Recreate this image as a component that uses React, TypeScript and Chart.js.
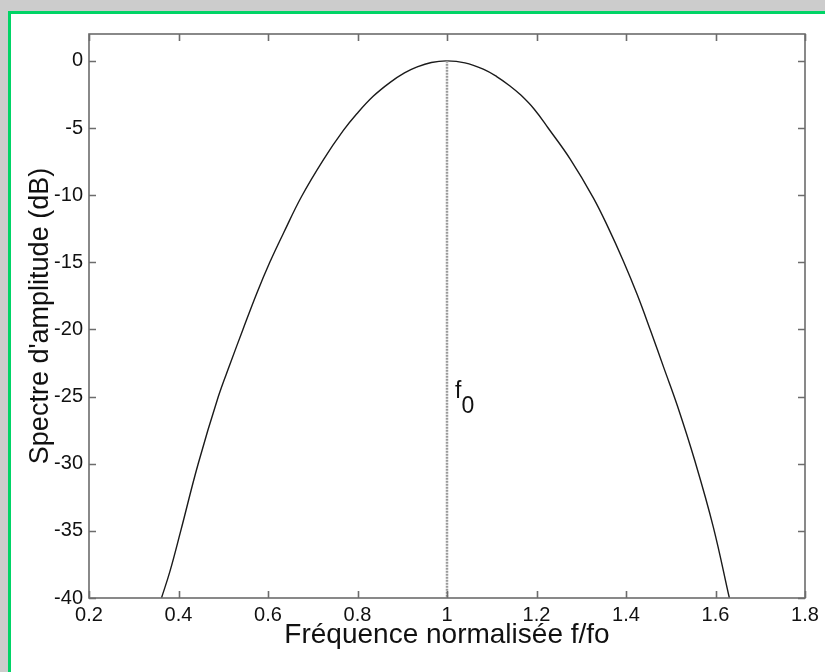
import React, { useEffect, useRef } from "react";
import { Chart, registerables } from "chart.js";

Chart.register(...registerables);

// Normalised frequency f/fo and amplitude spectrum (dB)
const freq = [
  0.362, 0.381, 0.405, 0.444, 0.489, 0.515, 0.544, 0.575, 0.604, 0.635, 0.675,
  0.724, 0.768, 0.798, 0.835, 0.873, 0.905, 0.932, 0.965, 1.0, 1.04, 1.081,
  1.111, 1.14, 1.165, 1.195, 1.226, 1.275, 1.327, 1.36, 1.394, 1.425, 1.455,
  1.485, 1.515, 1.554, 1.595, 1.631,
];
const amplitudeDb = [
  -40, -38, -35, -30, -25, -22.6, -20, -17.3, -15, -12.8, -10.1, -7.35, -5.2,
  -3.96, -2.64, -1.6, -0.9, -0.47, -0.12, 0, -0.15, -0.62, -1.17, -1.85, -2.55,
  -3.6, -5, -7.3, -10.2, -12.4, -14.9, -17.4, -20.1, -22.9, -25.7, -29.8, -34.7,
  -40,
];

// Vertical marker at the centre frequency f0
const markerFreq = [1, 1];
const markerDb = [0, -40];
const markerLabel = "f";
const markerSub = "0";
const markerLabelAt = { x: 1.018, y: -25.1 };

const xTicks = [0.2, 0.4, 0.6, 0.8, 1, 1.2, 1.4, 1.6, 1.8];
const yTicks = [0, -5, -10, -15, -20, -25, -30, -35, -40];

const xTitle = "Fréquence normalisée f/fo";
const yTitle = "Spectre d'amplitude (dB)";

const FONT = "'Liberation Sans', Arial, Helvetica, sans-serif";
const FRAME = "#6c6c6c";

// Box frame with inward ticks on all four sides, plus the f0 annotation
const framePlugin = {
  id: "frameAndTicks",
  afterDatasetsDraw(chart: any) {
    const { ctx, chartArea: a, scales } = chart;
    const x = scales.x;
    const y = scales.y;
    const len = 7;
    ctx.save();
    ctx.strokeStyle = FRAME;
    ctx.lineWidth = 1.6;
    ctx.strokeRect(a.left, a.top, a.right - a.left, a.bottom - a.top);
    ctx.beginPath();
    xTicks.forEach((v) => {
      const px = Math.round(x.getPixelForValue(v)) + 0.5;
      ctx.moveTo(px, a.bottom);
      ctx.lineTo(px, a.bottom - len);
      ctx.moveTo(px, a.top);
      ctx.lineTo(px, a.top + len);
    });
    yTicks.forEach((v) => {
      const py = Math.round(y.getPixelForValue(v)) + 0.5;
      ctx.moveTo(a.left, py);
      ctx.lineTo(a.left + len, py);
      ctx.moveTo(a.right, py);
      ctx.lineTo(a.right - len, py);
    });
    ctx.stroke();

    // f0 label
    const lx = x.getPixelForValue(markerLabelAt.x);
    const ly = y.getPixelForValue(markerLabelAt.y);
    ctx.fillStyle = "#111";
    ctx.font = `23px ${FONT}`;
    ctx.textBaseline = "alphabetic";
    ctx.textAlign = "left";
    ctx.fillText(markerLabel, lx, ly);
    const w = ctx.measureText(markerLabel).width;
    ctx.fillText(markerSub, lx + w, ly + 15);
    ctx.restore();
  },
};

function SpectrumChart() {
  const ref = useRef<HTMLCanvasElement | null>(null);

  useEffect(() => {
    if (!ref.current) return;
    const chart = new Chart(ref.current, {
      type: "line",
      data: {
        datasets: [
          {
            data: markerFreq.map((f, i) => ({ x: f, y: markerDb[i] })),
            borderColor: "#9a9a9a",
            borderWidth: 2.5,
            borderDash: [2, 1],
            pointRadius: 0,
            fill: false,
          },
          {
            data: freq.map((f, i) => ({ x: f, y: amplitudeDb[i] })),
            borderColor: "#1a1a1a",
            borderWidth: 1.4,
            pointRadius: 0,
            fill: false,
            tension: 0.4,
          },
        ],
      },
      options: {
        animation: false,
        responsive: false,
        devicePixelRatio: 1,
        layout: { padding: { top: 34, right: 20, left: 0, bottom: 0 } },
        plugins: {
          legend: { display: false },
          tooltip: { enabled: false },
        },
        scales: {
          x: {
            type: "linear",
            position: "bottom",
            min: 0.2,
            max: 1.8,
            grid: { display: false, drawTicks: false },
            border: { display: false },
            afterBuildTicks: (s: any) => {
              s.ticks = xTicks.map((v) => ({ value: v }));
            },
            afterFit: (s: any) => {
              s.height = 74;
            },
            ticks: {
              padding: 5,
              color: "#111",
              font: { family: FONT, size: 20 },
              maxRotation: 0,
              autoSkip: false,
              callback: (v: any) => String(Number(Number(v).toFixed(1))),
            },
            title: {
              display: true,
              text: xTitle,
              color: "#111",
              font: { family: FONT, size: 28 },
              padding: { top: 0, bottom: 20 },
            },
          },
          y: {
            type: "linear",
            position: "left",
            min: -40,
            max: 2,
            grid: { display: false, drawTicks: false },
            border: { display: false },
            afterBuildTicks: (s: any) => {
              s.ticks = yTicks.map((v) => ({ value: v }));
            },
            afterFit: (s: any) => {
              s.width = 89;
            },
            ticks: {
              padding: 6,
              color: "#111",
              font: { family: FONT, size: 20 },
              autoSkip: false,
              callback: (v: any) => String(v),
            },
            title: {
              display: true,
              text: yTitle,
              color: "#111",
              font: { family: FONT, size: 27 },
              padding: { top: 24, bottom: 0 },
            },
          },
        },
      },
      plugins: [framePlugin],
    });
    return () => chart.destroy();
  }, []);

  return (
    <canvas
      ref={ref}
      width={825}
      height={672}
      style={{ position: "absolute", left: 0, top: 0, width: 825, height: 672 }}
    />
  );
}

export default function App() {
  return (
    <div
      style={{
        position: "fixed",
        left: 0,
        top: 0,
        width: 825,
        height: 672,
        overflow: "hidden",
        background: "#cccccc",
      }}
    >
      <div
        style={{
          position: "absolute",
          left: 8,
          top: 11,
          width: 840,
          height: 700,
          border: "3px solid #00d466",
          background: "#ffffff",
          boxSizing: "border-box",
        }}
      />
      <SpectrumChart />
    </div>
  );
}
